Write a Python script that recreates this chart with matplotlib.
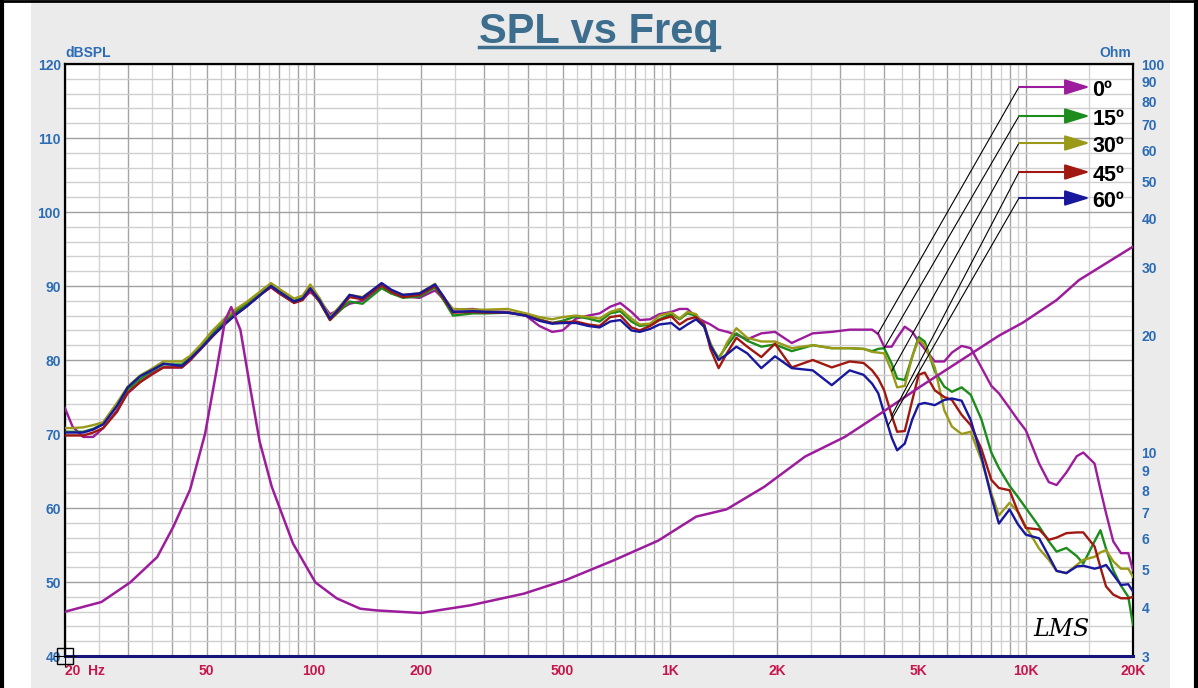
import numpy as np
import matplotlib
matplotlib.use("Agg")
import matplotlib.pyplot as plt
from matplotlib.patches import Rectangle
from matplotlib.lines import Line2D
from matplotlib.ticker import FixedLocator, FixedFormatter, NullFormatter

plt.rcParams['font.family'] = ['Liberation Sans', 'DejaVu Sans']

# ---- data ----
freq_hz = [20, 21, 22.5, 24, 25.6, 28, 30, 32.5, 35, 37.8, 42.6, 45, 48, 52, 56.7, 60, 64.6, 70, 75.8, 80, 88, 93, 97.7,
           104, 111, 118, 126, 137, 155, 165, 178, 198, 219, 232, 246, 280, 305, 350, 394, 430, 467, 500,
           545, 590, 635, 680, 726, 780, 823, 880, 935, 1010, 1065, 1120, 1185, 1250, 1300, 1371, 1450, 1538, 1650, 1807, 1974,
           2200, 2520, 2850, 3200, 3500, 3700, 3850, 4000, 4200, 4350, 4570, 4800, 5000, 5200, 5550, 5900, 6200, 6600, 7000,
           7500, 8000, 8400, 9000, 9500, 10000, 10900, 11600, 12200, 13000, 13900, 14500, 15600, 16200, 16800, 17600, 18500, 19400, 20000]

spl_0 = [73.5, 71.0, 69.6, 69.6, 70.8, 73.2, 75.5, 77.0, 78.2, 79.0, 79.0, 80.0, 81.6, 83.6, 85.6, 86.6, 87.6, 88.8, 89.8, 89.0, 87.8, 88.2, 89.2,
         88.0, 86.2, 86.8, 87.6, 88.0, 89.8, 89.0, 88.6, 88.4, 89.4, 88.2, 86.8, 86.9, 86.6, 86.5, 86.0, 84.6, 83.8, 84.0,
         85.6, 86.0, 86.3, 87.2, 87.7, 86.5, 85.4, 85.5, 86.2, 86.5, 86.9, 86.9, 85.8, 85.2, 84.8, 84.1, 83.8, 83.4, 82.8, 83.6, 83.8,
         82.3, 83.6, 83.8, 84.1, 84.1, 84.1, 83.5, 81.8, 81.8, 83.0, 84.5, 83.8, 82.5, 81.5, 79.8, 79.8, 81.0, 81.9, 81.6,
         79.0, 76.5, 75.5, 73.5, 71.9, 70.5, 66.0, 63.5, 63.1, 64.8, 67.0, 67.5, 66.0, 62.5, 59.3, 55.5, 53.9, 53.9, 51.6]

spl_15 = [70.3, 70.3, 70.3, 70.7, 71.4, 73.8, 76.0, 77.4, 78.5, 79.4, 79.4, 80.3, 81.7, 83.5, 85.4, 86.4, 87.5, 88.8, 90.1, 89.3, 88.0, 88.4, 89.6,
          87.8, 85.4, 86.6, 87.9, 87.6, 89.7, 89.0, 88.4, 88.6, 89.8, 88.0, 86.0, 86.3, 86.3, 86.4, 86.1, 85.5, 85.0, 85.3,
          85.9, 85.6, 85.2, 86.3, 86.6, 85.2, 84.6, 84.8, 85.5, 86.2, 85.5, 86.3, 86.0, 84.4, 82.0, 80.3, 82.0, 83.6, 82.6, 81.8, 82.1,
          81.2, 82.0, 81.6, 81.6, 81.5, 81.2, 81.5, 81.6, 79.5, 77.5, 77.3, 80.5, 83.1, 82.5, 78.5, 76.4, 75.7, 76.3, 75.3,
          72.0, 67.5, 65.4, 63.0, 61.5, 60.0, 57.5, 55.5, 54.1, 54.6, 53.5, 52.5, 55.5, 57.0, 54.5, 51.6, 49.5, 48.0, 44.2]

spl_30 = [70.8, 70.8, 70.9, 71.2, 71.6, 74.2, 76.4, 77.9, 78.8, 79.8, 79.8, 80.6, 82.0, 84.0, 85.8, 86.8, 87.8, 89.1, 90.4, 89.6, 88.3, 88.7, 90.2,
          88.3, 85.8, 87.2, 88.8, 88.5, 90.3, 89.4, 88.8, 89.0, 90.3, 88.4, 86.9, 86.8, 86.8, 86.9, 86.3, 85.8, 85.5, 85.8,
          86.0, 85.8, 85.6, 86.5, 86.9, 85.6, 84.8, 84.9, 86.0, 86.4, 85.6, 86.5, 86.2, 84.6, 82.3, 80.0, 82.4, 84.3, 83.0, 82.5, 82.5,
          81.6, 82.0, 81.6, 81.6, 81.5, 81.1, 81.0, 80.9, 78.5, 76.3, 76.5, 80.5, 82.8, 82.0, 79.0, 73.2, 71.0, 70.0, 70.3,
          66.5, 62.0, 59.0, 60.7, 59.5, 57.5, 54.5, 53.0, 51.5, 51.2, 52.3, 53.0, 53.4, 54.0, 54.3, 52.8, 51.8, 51.8, 50.7]

spl_45 = [69.8, 69.8, 69.8, 70.2, 70.8, 73.0, 75.6, 77.0, 78.0, 79.0, 79.0, 80.0, 81.4, 83.2, 85.0, 86.1, 87.2, 88.6, 89.9, 89.0, 87.7, 88.1, 89.5,
          87.8, 85.4, 86.8, 88.5, 88.2, 90.1, 89.2, 88.5, 88.8, 90.0, 88.2, 86.4, 86.5, 86.4, 86.4, 86.0, 85.4, 85.0, 85.1,
          85.2, 84.8, 84.6, 85.8, 86.0, 84.4, 84.0, 84.6, 85.4, 85.9, 84.8, 85.5, 85.8, 84.8, 81.5, 78.9, 81.0, 83.0, 81.8, 80.4, 82.2,
          79.0, 80.0, 79.0, 79.8, 79.6, 78.6, 77.5, 75.9, 72.5, 70.3, 70.4, 74.6, 78.0, 78.3, 75.9, 75.0, 74.6, 72.6, 71.2,
          68.0, 63.8, 62.7, 62.4, 59.5, 57.3, 57.1, 55.7, 56.0, 56.6, 56.7, 56.7, 54.8, 52.0, 49.4, 48.3, 47.8, 47.8, 48.0]

spl_60 = [70.2, 70.2, 70.2, 70.6, 71.3, 73.8, 76.3, 77.8, 78.6, 79.5, 79.2, 80.2, 81.5, 83.3, 85.0, 86.0, 87.2, 88.6, 90.0, 89.2, 87.9, 88.3, 89.7,
          88.0, 85.6, 87.0, 88.8, 88.4, 90.4, 89.5, 88.8, 89.0, 90.2, 88.5, 86.5, 86.6, 86.5, 86.4, 86.0, 85.3, 84.9, 85.0,
          85.0, 84.6, 84.4, 85.2, 85.4, 84.0, 83.8, 84.2, 84.8, 85.0, 84.1, 84.8, 85.5, 84.5, 82.0, 80.0, 80.8, 81.8, 80.9, 78.9, 80.5,
          78.9, 78.6, 76.6, 78.6, 78.0, 76.8, 75.5, 72.8, 69.5, 67.8, 68.7, 72.0, 74.0, 74.2, 73.9, 74.6, 74.8, 74.5, 71.9,
          67.0, 61.5, 57.9, 59.8, 57.8, 56.4, 55.9, 53.5, 51.5, 51.2, 52.1, 52.2, 51.8, 52.0, 52.3, 51.0, 49.6, 49.7, 48.7]

imp_freq = [20, 25.3, 30.5, 36.3, 40.3, 44.9, 49.5, 53.3, 56.3, 58.6, 62.2, 66, 70.4, 76.2, 87.4, 101, 116, 135, 150, 200,
            275, 389, 512, 700, 927, 1186, 1443, 1841, 2400, 3100, 3900, 5000, 8400, 9800, 12200, 14100, 20000]
imp_ohm = [3.90, 4.13, 4.64, 5.39, 6.45, 8.03, 11.2, 16.3, 21.9, 23.7, 20.7, 15.0, 10.7, 8.17, 5.84, 4.64, 4.22, 3.97, 3.93, 3.87,
           4.05, 4.34, 4.71, 5.30, 5.94, 6.85, 7.15, 8.17, 9.78, 10.98, 12.6, 14.7, 20.0, 21.6, 24.7, 27.8, 33.9]

angle_labels = ['0º', '15º', '30º', '45º', '60º']
angle_colors = ['#9c1c9c', '#1c8c1c', '#9a9a18', '#a01810', '#18189c']
leader_freq = [3840, 4000, 4200, 4200, 4100]   # where the callout lines touch each curve

x_ticks = [20, 50, 100, 200, 500, 1000, 2000, 5000, 10000, 20000]
x_ticklabels = ['20  Hz', '50', '100', '200', '500', '1K', '2K', '5K', '10K', '20K']
ohm_ticks = [3, 4, 5, 6, 7, 8, 9, 10, 20, 30, 40, 50, 60, 70, 80, 90, 100]

# ---- figure ----
fig = plt.figure(figsize=(11.98, 6.88), dpi=100)
fig.patch.set_facecolor('white')
fig.add_artist(Rectangle((31/1198, 0), (1170-31)/1198, 1 - 3/688, transform=fig.transFigure,
                         facecolor='#ebebeb', edgecolor='none', zorder=-10))
# black frame
fig.add_artist(Line2D([2/1198, 2/1198], [0, 1], transform=fig.transFigure, color='black', lw=3))
fig.add_artist(Line2D([1196/1198, 1196/1198], [0, 1], transform=fig.transFigure, color='black', lw=3))
fig.add_artist(Line2D([0, 1], [1 - 1/688, 1 - 1/688], transform=fig.transFigure, color='black', lw=2))

ax = fig.add_axes([65/1198, 1 - 656/688, (1133-65)/1198, (656-64)/688])
ax.set_facecolor('white')
ax.set_xscale('log')
ax.set_xlim(20, 20000)
ax.set_ylim(40, 120)

# vertical grid: dark at integer multiples, light at the halves
dark_x, light_x = [], []
for dec in [10, 100, 1000, 10000]:
    for k in range(2, 20):
        f = k * 0.5 * dec
        if 20 <= f <= 20000:
            (dark_x if k % 2 == 0 else light_x).append(f)
ax.xaxis.set_major_locator(FixedLocator(dark_x))
ax.xaxis.set_major_formatter(FixedFormatter([x_ticklabels[x_ticks.index(f)] if f in x_ticks else '' for f in dark_x]))
ax.xaxis.set_minor_locator(FixedLocator(light_x))
ax.xaxis.set_minor_formatter(NullFormatter())

ax.set_yticks(np.arange(40, 121, 10))
ax.set_yticks(np.arange(40, 121, 2), minor=True)

ax.grid(True, which='major', axis='x', color='#a4a4a4', lw=1.0)
ax.grid(True, which='minor', axis='x', color='#d2d2d2', lw=1.0)
ax.grid(True, which='major', axis='y', color='#a0a0a0', lw=1.0)
ax.grid(True, which='minor', axis='y', color='#cfcfcf', lw=1.0)
ax.set_axisbelow(True)

ax.tick_params(which='both', length=0)
ax.tick_params(axis='x', colors='#c8164c', labelsize=10, pad=6)
ax.tick_params(axis='y', colors='#2b6cb5', labelsize=10, pad=3)
for t in ax.get_xticklabels() + ax.get_yticklabels():
    t.set_fontweight('bold')
ax.get_xticklabels()[0].set_horizontalalignment('left')

for side in ['left', 'top', 'right']:
    ax.spines[side].set_color('black')
    ax.spines[side].set_linewidth(1.6)
ax.spines['bottom'].set_color('#16167a')
ax.spines['bottom'].set_linewidth(2.2)

series = [spl_0, spl_15, spl_30, spl_45, spl_60]
for vals, c in zip(series, angle_colors):
    ax.plot(freq_hz, vals, color=c, lw=1.7, zorder=3)

# impedance on the right axis
ax2 = ax.twinx()
ax2.set_yscale('log')
ax2.set_ylim(3, 100)
ax2.set_yticks(ohm_ticks)
ax2.set_yticklabels([str(v) for v in ohm_ticks])
ax2.yaxis.set_minor_formatter(NullFormatter())
ax2.tick_params(which='both', length=0)
ax2.tick_params(axis='y', colors='#2b6cb5', labelsize=10, pad=6)
for t in ax2.get_yticklabels():
    t.set_fontweight('bold')
for s in ax2.spines.values():
    s.set_visible(False)
ax2.plot(imp_freq, imp_ohm, color=angle_colors[0], lw=1.8, zorder=3)

ax.text(0.0, 1.006, 'dBSPL', transform=ax.transAxes, ha='left', va='bottom',
        color='#2b6cb5', fontsize=10, fontweight='bold')
ax.text(0.998, 1.006, 'Ohm', transform=ax.transAxes, ha='right', va='bottom',
        color='#2b6cb5', fontsize=10, fontweight='bold')

# callout legend
lx0, lx1 = (1019-65)/1068, (1090-65)/1068
ly = [(656-87)/592, (656-116)/592, (656-143)/592, (656-172)/592, (656-198)/592]
logf = np.log10(freq_hz)
for lab, c, vals, fl, y in zip(angle_labels, angle_colors, series, leader_freq, ly):
    target = (fl, np.interp(np.log10(fl), logf, vals))
    ax2.annotate('', xy=target, xycoords=ax.transData, xytext=(lx0, y), textcoords=ax.transAxes,
                 arrowprops=dict(arrowstyle='-', color='black', lw=0.8, shrinkA=0, shrinkB=0))
    ax2.annotate('', xy=(lx1, y), xycoords=ax.transAxes, xytext=(lx0, y), textcoords=ax.transAxes,
                 arrowprops=dict(arrowstyle='-|>,head_length=1.1,head_width=0.34', color=c, lw=1.5,
                                 mutation_scale=14, shrinkA=0, shrinkB=0))
    ax2.text(lx1 + 0.002, y - 0.006, lab, transform=ax.transAxes, ha='left', va='center',
             fontsize=15.5, fontweight='bold', color='black')

# signature and cursor box
ax2.text(0.933, 0.045, 'LMS', transform=ax.transAxes, ha='center', va='center',
         fontsize=17, fontstyle='italic', family='DejaVu Serif', color='black')
ax2.plot([0], [0], transform=ax.transAxes, marker='s', ms=11, mfc='none', mec='black', mew=1.0, clip_on=False)
ax2.plot([0], [0], transform=ax.transAxes, marker='+', ms=16, color='black', mew=0.8, clip_on=False)

# title with underline
title = fig.text(0.5, 1 - 43/688, 'SPL vs Freq', ha='center', va='baseline',
                 fontsize=30, fontweight='bold', color='#3e6e8e')
fig.canvas.draw()
bb = title.get_window_extent()
uy = 1 - 47/688
fig.add_artist(Line2D([bb.x0 / fig.bbox.width, bb.x1 / fig.bbox.width], [uy, uy],
                      transform=fig.transFigure, color='#3e6e8e', lw=2.5))

fig.savefig('out.png', dpi=100, facecolor=fig.get_facecolor())
